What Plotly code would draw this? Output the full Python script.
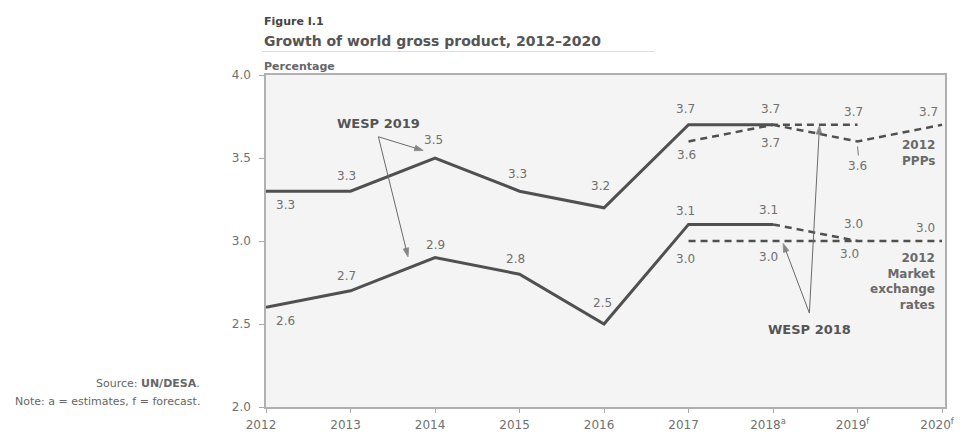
import plotly.graph_objects as go

# ---- data ----
year_labels = ["2012", "2013", "2014", "2015", "2016", "2017",
               "2018<sup>a</sup>", "2019<sup>f</sup>", "2020<sup>f</sup>"]
wesp2019_ppp = [3.3, 3.3, 3.5, 3.3, 3.2, 3.7, 3.7, 3.6, 3.7]
wesp2019_mer = [2.6, 2.7, 2.9, 2.8, 2.5, 3.1, 3.1, 3.0, 3.0]
wesp2018_ppp = [None, None, None, None, None, 3.6, 3.7, 3.7, None]
wesp2018_mer = [None, None, None, None, None, 3.0, 3.0, 3.0, None]
n_estimates = 7  # 2012-2018 drawn solid, 2018-2020 forecast dashed

# value-label offsets in px (dx, dy)
ppp19_off = [(19, -14), (-4, 15), (-2, 18), (-2, 17), (-4, 22), (-3, 16), (-3, 16), (0, -25), (-14, 13)]
mer19_off = [(19, -14), (-4, 15), (0, 13), (-4, 15), (-2, 21), (-3, 13), (-5, 14), (-4, 17), (-17, 13)]
ppp18_off = {5: (-2, -14), 6: (-3, -18), 7: (-4, 13)}
mer18_off = {5: (-3, -18), 6: (-5, -16), 7: (-8, -13)}

W, H = 964, 441
L, R, T, B = 266, 9, 75, 27
pw, ph = W - L - R, H - T - B

LINE = "#505050"
TXT = "#707070"
FONT = "DejaVu Sans"
x = list(range(len(year_labels)))

fig = go.Figure()


def add_series(vals, idx, dash, width):
    fig.add_trace(go.Scatter(
        x=[x[i] for i in idx], y=[vals[i] for i in idx], mode="lines",
        line=dict(color=LINE, width=width, dash=dash), hoverinfo="skip",
        showlegend=False))


est = list(range(0, n_estimates))
fc = list(range(n_estimates - 1, len(x)))
dash = "7px,5px"
add_series(wesp2018_mer, [5, 6, 7], dash, 2.5)
add_series(wesp2018_ppp, [5, 6, 7], dash, 2.5)
add_series(wesp2019_ppp, est, "solid", 3)
add_series(wesp2019_mer, est, "solid", 3)
add_series(wesp2019_ppp, fc, dash, 2.5)
add_series(wesp2019_mer, fc, dash, 2.5)


def callout_arrow(tail, head):
    fig.add_trace(go.Scatter(
        x=[tail[0], head[0]], y=[tail[1], head[1]], mode="lines+markers",
        line=dict(color="#6a6a6a", width=1),
        marker=dict(symbol=["circle", "arrow"], size=[0, 9], color="#555",
                    angleref="previous"),
        hoverinfo="skip", showlegend=False))


callout_arrow((1.33, 3.628), (1.86, 3.545))
callout_arrow((1.33, 3.628), (1.68, 2.905))
callout_arrow((6.43, 2.566), (6.55, 3.695))
callout_arrow((6.43, 2.566), (6.12, 2.985))

ann = []


def label(xi, yv, off):
    ann.append(dict(x=xi, y=yv, xref="x", yref="y", text=f"{yv:.1f}",
                    showarrow=False, xshift=off[0], yshift=off[1],
                    font=dict(family=FONT, size=12, color=TXT)))


for i, v in enumerate(wesp2019_ppp):
    label(i, v, ppp19_off[i])
for i, v in enumerate(wesp2019_mer):
    label(i, v, mer19_off[i])
for i, off in ppp18_off.items():
    label(i, wesp2018_ppp[i], off)
for i, off in mer18_off.items():
    label(i, wesp2018_mer[i], off)

# series captions at the right edge
cap_font = dict(family=FONT, size=12, color="#6a6a6a", weight="bold")
ann.append(dict(x=1, xref="paper", xanchor="right", y=3.528, yref="y",
                text="2012<br>PPPs", showarrow=False, align="right", xshift=-8,
                font=cap_font))
ann.append(dict(x=1, xref="paper", xanchor="right", y=2.755, yref="y",
                text="2012<br>Market<br>exchange<br>rates", showarrow=False,
                align="right", xshift=-8, font=cap_font))

# edition callout labels
ed_font = dict(family=FONT, size=13, color="#555", weight="bold")
ann.append(dict(x=1.33, y=3.71, xref="x", yref="y", text="WESP 2019",
                showarrow=False, font=ed_font))
ann.append(dict(x=6.43, y=2.466, xref="x", yref="y", text="WESP 2018",
                showarrow=False, font=ed_font))

# heading, unit and notes, placed in page pixels
page_texts = [
    dict(text="<b>Figure I.1</b>", px=262, py=20, size=11, color="#444", anchor="left"),
    dict(text="<b>Growth of world gross product, 2012–2020</b>", px=262, py=40, size=14,
         color="#555", anchor="left"),
    dict(text="<b>Percentage</b>", px=262, py=66, size=11, color="#666", anchor="left"),
    dict(text="Source: <b>UN/DESA</b>.", px=201, py=390, size=11, color="#666", anchor="right"),
    dict(text="Note: a = estimates, f = forecast.", px=201, py=408, size=11,
         color="#666", anchor="right"),
]
for n in page_texts:
    ann.append(dict(x=(n["px"] - L) / pw, y=1 - (n["py"] - T) / ph,
                    xref="paper", yref="paper", xanchor=n["anchor"], yanchor="middle",
                    text=n["text"], showarrow=False,
                    font=dict(family=FONT, size=n["size"], color=n["color"])))

shapes = [
    # leader from the 2019 PPP forecast value to its label
    dict(type="line", xref="x", yref="y", x0=7.0, y0=3.57, x1=7.01, y1=3.515,
         line=dict(color="#777", width=1)),
    # rule under the heading
    dict(type="line", xref="paper", yref="paper",
         x0=(262 - L) / pw, x1=(660 - L) / pw,
         y0=1 - (51 - T) / ph, y1=1 - (51 - T) / ph,
         line=dict(color="#dddddd", width=1)),
]

axis_common = dict(showgrid=False, zeroline=False, showline=True, mirror=True,
                   linecolor="#b0b0b0", linewidth=1.5, ticks="outside",
                   tickcolor="#aaa", tickfont=dict(family=FONT, size=12, color=TXT))

fig.update_layout(
    width=W, height=H,
    margin=dict(l=L, r=R, t=T, b=B, pad=0),
    paper_bgcolor="white", plot_bgcolor="#f4f4f4",
    annotations=ann, shapes=shapes,
    font=dict(family=FONT, color=TXT),
    xaxis=dict(range=[0, 8.035], tickvals=x, ticktext=year_labels, ticklen=4,
               ticklabelshift=-5, ticklabelstandoff=2, ticklabeloverflow="allow",
               **axis_common),
    yaxis=dict(range=[2.0, 4.0], tickvals=[2.0, 2.5, 3.0, 3.5, 4.0],
               ticktext=["2.0", "2.5", "3.0", "3.5", "4.0"], ticklen=5,
               ticklabelstandoff=6, **axis_common),
)

fig.write_html("out.html")
